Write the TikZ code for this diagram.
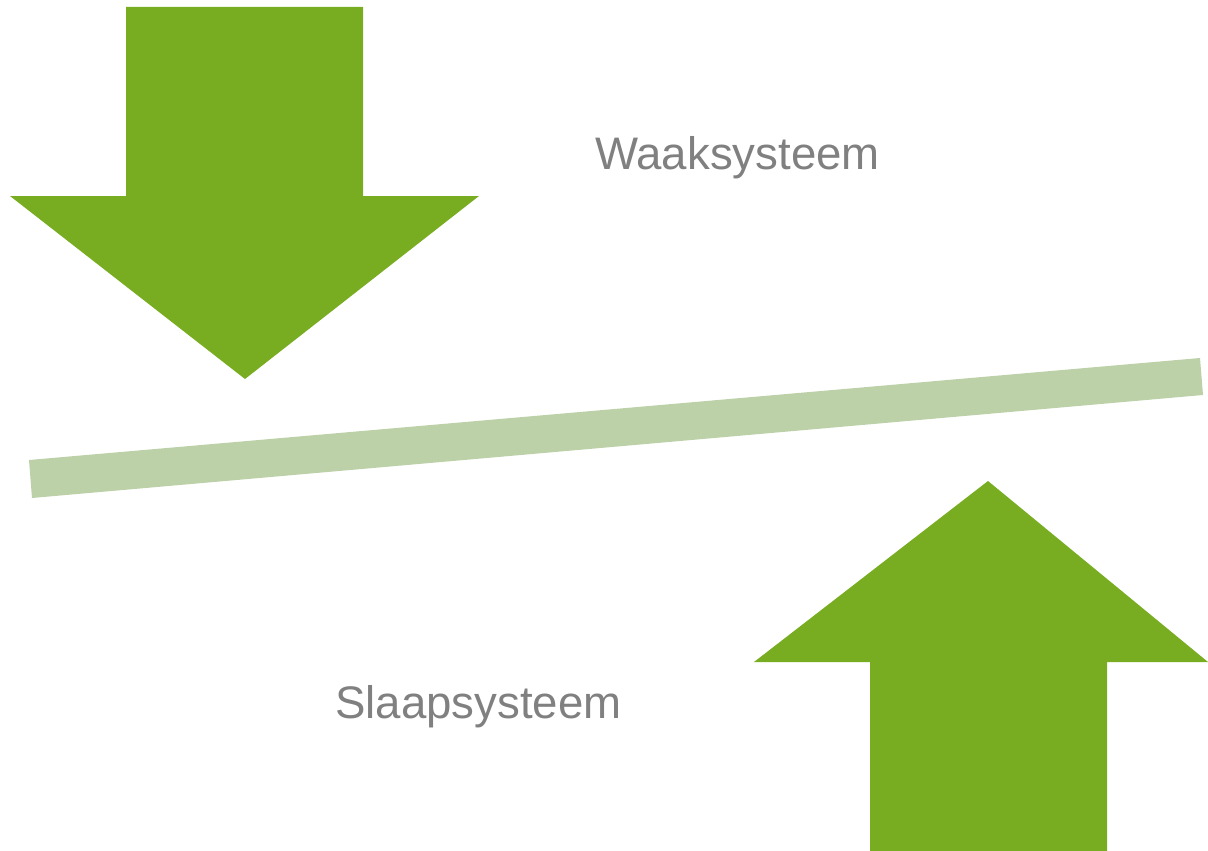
\documentclass[tikz,border=0pt]{standalone}
\usepackage{fontspec}
\setmainfont{Liberation Sans}
\definecolor{arrowgreen}{HTML}{78AC21}
\definecolor{barsage}{HTML}{BDD1A8}
\definecolor{labelgray}{HTML}{808080}
\tikzset{
  bigarrow/.style={fill=arrowgreen, draw=none},
  balancebar/.style={fill=barsage, draw=none},
  systemlabel/.style={text=labelgray, font=\fontsize{45.6}{52}\selectfont, inner sep=0pt, anchor=base west}
}
\begin{document}
\begin{tikzpicture}[x=1pt, y=-1pt]
  \useasboundingbox (0,0) rectangle (1208,851);
  % downward arrow (wake system pressing down)
  \fill[bigarrow] (126,7) -- (363,7) -- (363,196) -- (479,196) -- (245,379)
    -- (10,196) -- (126,196) -- cycle;
  % upward arrow (sleep system pushing up)
  \fill[bigarrow] (870,851) -- (1107,851) -- (1107,662) -- (1208,662) -- (988,481)
    -- (754,662) -- (870,662) -- cycle;
  % tilted balance bar
  \fill[balancebar] (29,460) -- (1200,358) -- (1203,395) -- (32,498) -- cycle;
  % labels
  \node[systemlabel] (wake) at (595,169) {Waaksysteem};
  \node[systemlabel] (sleep) at (335,718) {Slaapsysteem};
\end{tikzpicture}
\end{document}
